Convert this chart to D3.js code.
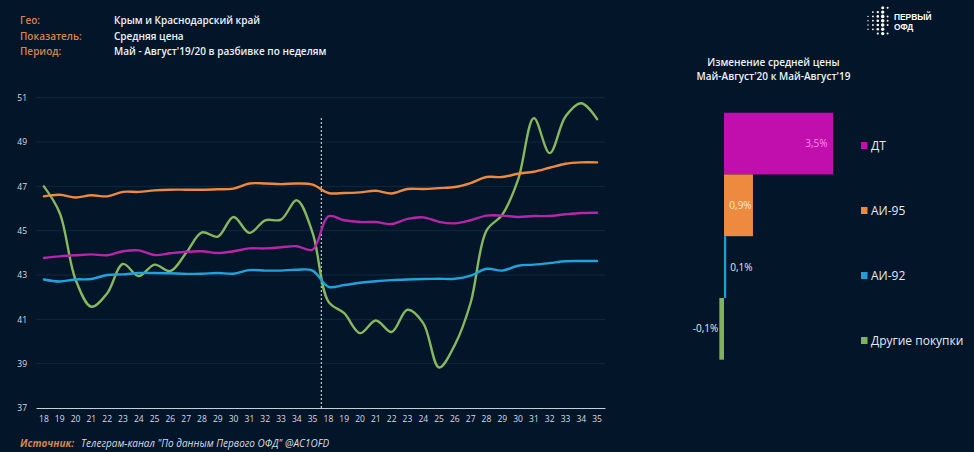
<!DOCTYPE html>
<html><head><meta charset="utf-8">
<script src="https://cdn.jsdelivr.net/npm/d3@7"></script>
<style>
html,body{margin:0;padding:0;background:#021529;}
svg{display:block;}
text{font-family:"Open Sans","Noto Sans",sans-serif;}
</style></head><body><svg id="c" width="974" height="452"></svg>
<script>
const weeks19 = [18,19,20,21,22,23,24,25,26,27,28,29,30,31,32,33,34,35];
const weeks20 = [18,19,20,21,22,23,24,25,26,27,28,29,30,31,32,33,34,35];
const weekLabels = weeks19.concat(weeks20);
const yTicks = [37,39,41,43,45,47,49,51];
const dt = [43.77,43.84,43.89,43.93,43.89,44.07,44.11,43.9,43.98,44.05,44.07,43.99,44.07,44.2,44.2,44.25,44.3,44.14,
            45.65,45.47,45.39,45.39,45.3,45.53,45.6,45.4,45.33,45.47,45.68,45.68,45.62,45.66,45.66,45.74,45.8,45.81];
const ai95 = [46.55,46.62,46.5,46.6,46.55,46.75,46.75,46.82,46.85,46.85,46.85,46.87,46.9,47.13,47.13,47.1,47.13,47.08,
            46.7,46.7,46.73,46.8,46.68,46.88,46.88,46.92,46.97,47.15,47.42,47.42,47.57,47.66,47.84,48.02,48.08,48.08];
const ai92 = [42.8,42.71,42.8,42.82,43,43.03,43.09,43.09,43.08,43.05,43.06,43.09,43.06,43.22,43.2,43.2,43.24,43.2,
            42.47,42.55,42.65,42.72,42.77,42.8,42.82,42.83,42.83,42.97,43.28,43.2,43.42,43.47,43.54,43.62,43.63,43.63];
const other = [47,45.8,42.8,41.57,42.17,43.5,42.95,43.47,43.18,44,44.92,44.73,45.62,44.9,45.47,45.5,46.37,44.9,
            41.8,41.28,40.38,40.95,40.43,41.43,40.83,38.83,39.85,41.75,45,45.72,47.3,50.08,48.5,50.15,50.75,50.03];
const seriesNames = ["ДТ","АИ-95","АИ-92","Другие покупки"];
const seriesColors = ["#c10fae","#ed8a3f","#1f9fd8","#7fb35a"];
const lineValues = [other,ai92,dt,ai95];
const lineColors = ["#85b85f","#1fa3dc","#b825ab","#ed8a3f"];
const changes = [3.5,0.93,0.07,-0.15];
const changeLabels = ["3,5%","0,9%","0,1%","-0,1%"];
const changeLabelColors = ["#fb8cec","#fde9d8","#e6ebf0","#e6ebf0"];
const headKeys = ["Гео:","Показатель:","Период:"];
const headVals = ["Крым и Краснодарский край","Средняя цена","Май - Август'19/20 в разбивке по неделям"];
const barTitle = ["Изменение средней цены","Май-Август'20 к Май-Август'19"];
const logoDots = [[0,2,.7],[0,3,.7],[0,4,.7],[0,5,.7],
  [1,1,.9],[1,2,.9],[1,3,.9],[1,4,.9],[1,5,.9],
  [2,1,1.2],[2,2,1.3],[2,3,1.3],[2,4,1.3],[2,5,1.3],[2,6,1.1],
  [3,0,1.5],[3,1,1.7],[3,2,1.8],[3,3,1.8],[3,4,1.8],[3,5,1.7],[3,6,1.7],
  [4,0,1],[4,2,1],[4,3,1],[4,4,1],[4,6,1]];

const svg = d3.select("#c");
const x = d3.scaleBand().domain(d3.range(weekLabels.length)).range([36,605]);
const y = d3.scaleLinear().domain([37,51]).range([408,97.7]);
const cx = i => x(i)+x.bandwidth()/2;

svg.append("g").selectAll("line").data(yTicks.filter(t=>t>37)).join("line")
  .attr("x1",36).attr("x2",605).attr("y1",d=>y(d)).attr("y2",d=>y(d))
  .attr("stroke","#10293f").attr("stroke-width",1);
const axY = svg.append("g").attr("transform","translate(36,0)")
  .call(d3.axisLeft(y).tickValues(yTicks).tickSize(0).tickPadding(9));
axY.select(".domain").remove();
axY.selectAll("text").attr("fill","#d5dde6").style("font-size","8.5px");
const axX = svg.append("g").attr("transform","translate(0,408)")
  .call(d3.axisBottom(x).tickFormat(i=>weekLabels[i]).tickSize(0).tickPadding(8));
axX.select(".domain").attr("stroke","#c3d0dc").attr("stroke-width",1);
axX.selectAll("text").attr("fill","#d5dde6").style("font-size","8.5px");

svg.append("line").attr("x1",x(18)+0.8).attr("x2",x(18)+0.8).attr("y1",118).attr("y2",408)
  .attr("stroke","#e6ebf0").attr("stroke-width",1).attr("stroke-dasharray","2 2");

const line = d3.line().x((d,i)=>cx(i)).y(d=>y(d)).curve(d3.curveCatmullRom.alpha(0.5));
svg.append("g").selectAll("path").data(lineValues).join("path")
  .attr("d",line).attr("fill","none").attr("stroke",(d,i)=>lineColors[i])
  .attr("stroke-width",2.4).attr("stroke-linecap","round");

const bx = d3.scaleLinear().domain([0,3.5]).range([724,833]);
const by = d3.scaleBand().domain(seriesNames).range([112.7,359.7]);
const ly = d3.scalePoint().domain(seriesNames).range([145.5,340.5]);
svg.append("g").selectAll("rect").data(changes).join("rect")
  .attr("x",d=>Math.min(bx(0),bx(d))).attr("width",d=>Math.abs(bx(d)-bx(0)))
  .attr("y",(d,i)=>by(seriesNames[i])).attr("height",by.bandwidth())
  .attr("fill",(d,i)=>seriesColors[i]);
svg.append("g").selectAll("text").data(changes).join("text")
  .attr("x",(d,i)=> i==0? bx(d)-5.5 : i==1? (bx(0)+bx(d))/2+2 : d>0? bx(d)+4 : bx(d)-1)
  .attr("y",(d,i)=>by(seriesNames[i])+by.bandwidth()/2+3.5)
  .attr("text-anchor",(d,i)=> i==0?"end": i==1?"middle": d>0?"start":"end")
  .attr("fill",(d,i)=>changeLabelColors[i]).style("font-size","10px")
  .text((d,i)=>changeLabels[i]);

const lg = svg.append("g").selectAll("g").data(seriesNames).join("g")
  .attr("transform",d=>`translate(861,${ly(d)})`);
lg.append("rect").attr("y",-3.5).attr("width",6.5).attr("height",7).attr("fill",(d,i)=>seriesColors[i]);
lg.append("text").attr("x",10).attr("y",4.5).attr("fill","#e6ebf0").style("font-size","12px").text(d=>d);

svg.append("g").selectAll("text").data(headKeys).join("text")
  .attr("x",20).attr("y",(d,i)=>24+i*15.5).attr("fill","#d5854e").attr("font-weight",600).style("font-size","10px").text(d=>d);
svg.append("g").selectAll("text").data(headVals).join("text")
  .attr("x",114).attr("y",(d,i)=>24+i*15.5).attr("fill","#eef2f6").attr("font-weight",600).style("font-size","10px").text(d=>d);
svg.append("g").selectAll("text").data(barTitle).join("text")
  .attr("x",773.5).attr("y",(d,i)=>65.5+i*14.5).attr("text-anchor","middle").attr("fill","#eef2f6").attr("font-weight",600).style("font-size","10px").text(d=>d);

const src = svg.append("text").attr("x",20).attr("y",447).style("font-size","10px").attr("font-style","italic");
src.append("tspan").attr("fill","#d5854e").attr("font-weight",700).text("Источник:");
src.append("tspan").attr("dx",7).attr("fill","#d5dde6").text("Телеграм-канал \"По данным Первого ОФД\" @AC1OFD");

svg.append("g").selectAll("circle").data(logoDots).join("circle")
  .attr("cx",d=>868+d[0]*4.9).attr("cy",d=>7.8+d[1]*4.3).attr("r",d=>d[2]).attr("fill","#fff");
svg.append("g").selectAll("text").data(["ПЕРВЫЙ","ОФД"]).join("text")
  .attr("x",894).attr("y",(d,i)=>19.5+i*10).attr("fill","#fff").attr("font-weight",700)
  .style("font-family","'Liberation Sans',sans-serif").style("font-size","8.4px").text(d=>d);
</script></body></html>
